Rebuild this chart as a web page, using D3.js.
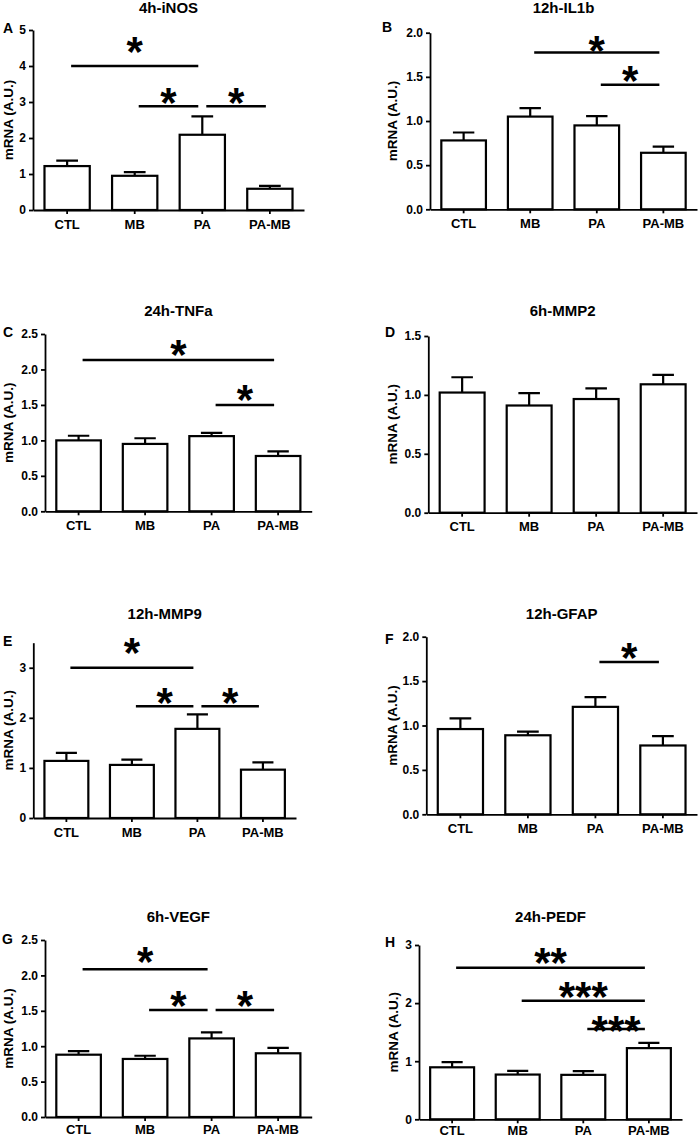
<!DOCTYPE html>
<html>
<head>
<meta charset="utf-8">
<script src="https://cdn.jsdelivr.net/npm/d3@7"></script>
<style>
  body { margin: 0; background: #fff; }
  svg { display: block; font-family: "Liberation Sans", Arial, sans-serif; font-weight: bold; }
</style>
</head>
<body>
<div id="fig"></div>
<script>
// group names on the x axis (same for every panel)
var groups = ["CTL", "MB", "PA", "PA-MB"];

var titles = ["4h-iNOS", "12h-IL1b", "24h-TNFa", "6h-MMP2", "12h-MMP9", "12h-GFAP", "6h-VEGF", "24h-PEDF"];
var letters = ["A", "B", "C", "D", "E", "F", "G", "H"];

// bar heights (mean) and upper error (SEM)
var means = [
  [1.22, 0.95, 2.09, 0.59],
  [0.78, 1.05, 0.95, 0.64],
  [1.00, 0.95, 1.06, 0.78],
  [1.02, 0.91, 0.965, 1.09],
  [1.14, 1.06, 1.78, 0.965],
  [0.96, 0.89, 1.21, 0.775],
  [0.88, 0.82, 1.11, 0.90],
  [0.895, 0.77, 0.765, 1.225]
];
var sems = [
  [0.15, 0.10, 0.51, 0.08],
  [0.09, 0.095, 0.105, 0.07],
  [0.065, 0.08, 0.045, 0.065],
  [0.13, 0.105, 0.09, 0.08],
  [0.16, 0.105, 0.29, 0.145],
  [0.12, 0.04, 0.11, 0.105],
  [0.05, 0.045, 0.085, 0.075],
  [0.09, 0.065, 0.065, 0.09]
];

// y axis
var yMax = [5, 2, 2.5, 1.5, 3.5, 2, 2.5, 3];
var yTicks = [
  [0, 1, 2, 3, 4, 5],
  [0, 0.5, 1, 1.5, 2],
  [0, 0.5, 1, 1.5, 2, 2.5],
  [0, 0.5, 1, 1.5],
  [0, 1, 2, 3],
  [0, 0.5, 1, 1.5, 2],
  [0, 0.5, 1, 1.5, 2, 2.5],
  [0, 1, 2, 3]
];
var yDecimals = [0, 1, 1, 1, 0, 1, 1, 0];

// significance: [from group, to group, line value, star value, label]
var comparisons = [
  [[0, 2, 4.0, 4.67, "*"], [1, 2, 2.88, 3.25, "*"], [2, 3, 2.88, 3.25, "*"]],
  [[1, 3, 1.777, 1.908, "*"], [2, 3, 1.41, 1.57, "*"]],
  [[0, 3, 2.134, 2.345, "*"], [2, 3, 1.50, 1.71, "*"]],
  [],
  [[0, 2, 3.0, 3.49, "*"], [1, 2, 2.23, 2.49, "*"], [2, 3, 2.23, 2.49, "*"]],
  [[2, 3, 1.715, 1.873, "*"]],
  [[0, 2, 2.086, 2.335, "*"], [1, 2, 1.511, 1.713, "*"], [2, 3, 1.511, 1.713, "*"]],
  [[0, 3, 2.61, 2.857, "**"], [1, 3, 2.04, 2.282, "***"], [2, 3, 1.554, 1.697, "***"]]
];

// panel placement on the page
var layout = [
  {xL: 33,    xR: 304,   yTop: 30,    y0: 210,    titleY: 12.7,  lx: 3,   ly: 33,    labX: 12.5, xPad: 5.5},
  {xL: 430,   xR: 697,   yTop: 32.7,  y0: 209.3,  titleY: 12.7,  lx: 382, ly: 32.3,  labX: 397,  xPad: 5.5},
  {xL: 45,    xR: 311.7, yTop: 334,   y0: 511.3,  titleY: 316,   lx: 3,   ly: 336.7, labX: 12.5, xPad: 5.5},
  {xL: 428.3, xR: 697,   yTop: 336,   y0: 512.7,  titleY: 316,   lx: 385, ly: 336.7, labX: 397,  xPad: 5.5},
  {xL: 33.3,  xR: 296,   yTop: 642.7, y0: 818,    titleY: 619,   lx: 3,   ly: 646,   labX: 12.5, xPad: 5.5},
  {xL: 426.3, xR: 697,   yTop: 636.7, y0: 814.3,  titleY: 619,   lx: 385, ly: 644,   labX: 397,  xPad: 5.5},
  {xL: 45,    xR: 311.7, yTop: 940,   y0: 1117,   titleY: 921.7, lx: 2,   ly: 944.3, labX: 12.5, xPad: 4},
  {xL: 419,   xR: 682,   yTop: 945,   y0: 1119.3, titleY: 921.7, lx: 385, ly: 946.7, labX: 398,  xPad: 2.5}
];

var starSize = 42;

var svg = d3.select("#fig").append("svg")
  .attr("width", 698)
  .attr("height", 1138);

titles.forEach(function (title, i) {
  var L = layout[i];
  var g = svg.append("g").attr("class", "panel");

  var x = d3.scaleBand().domain(groups)
    .range([L.xL, L.xR])
    .paddingInner(0.33)
    .paddingOuter(0.17);
  var y = d3.scaleLinear().domain([0, yMax[i]]).range([L.y0, L.yTop]);
  var bw = x.bandwidth();

  var rows = groups.map(function (k, j) {
    return {key: k, mean: means[i][j], sem: sems[i][j]};
  });

  // bars
  g.selectAll(".bar")
    .data(rows)
    .enter().append("rect")
    .attr("class", "bar")
    .attr("x", function (d) { return x(d.key); })
    .attr("y", function (d) { return y(d.mean); })
    .attr("width", bw)
    .attr("height", function (d) { return y(0) - y(d.mean); })
    .style("fill", "#fff")
    .style("stroke", "#000")
    .style("stroke-width", 2.2);

  // error bars (upper half only)
  g.selectAll(".err")
    .data(rows)
    .enter().append("path")
    .attr("class", "err")
    .attr("d", function (d) {
      var cx = x(d.key) + bw / 2, top = y(d.mean + d.sem);
      return "M" + cx + "," + y(d.mean) + "V" + top +
        "M" + (cx - bw * 0.24) + "," + top + "H" + (cx + bw * 0.24);
    })
    .style("fill", "none")
    .style("stroke", "#000")
    .style("stroke-width", 2.2);

  // axes
  var ya = g.append("g")
    .attr("transform", "translate(" + L.xL + ",0)")
    .call(d3.axisLeft(y)
      .tickValues(yTicks[i])
      .tickFormat(d3.format("." + yDecimals[i] + "f"))
      .tickSize(4).tickSizeOuter(0).tickPadding(3));

  var xa = g.append("g")
    .attr("transform", "translate(0," + L.y0 + ")")
    .call(d3.axisBottom(x).tickSize(4).tickSizeOuter(0).tickPadding(L.xPad));

  [ya, xa].forEach(function (a) {
    a.select(".domain").style("stroke-width", 1.8);
    a.selectAll(".tick line").style("stroke-width", 1.8);
    a.selectAll("text")
      .style("font-family", '"Liberation Sans", Arial, sans-serif')
      .style("font-weight", "bold")
      .style("fill", "#000");
  });
  ya.selectAll("text").style("font-size", "12px");
  xa.selectAll("text").style("font-size", "13px");

  // significance bars and stars
  var comp = g.selectAll(".sig")
    .data(comparisons[i])
    .enter().append("g")
    .attr("class", "sig");

  comp.append("line")
    .attr("x1", function (d) { return x(groups[d[0]]) + bw / 2 + 4; })
    .attr("x2", function (d) { return x(groups[d[1]]) + bw / 2 - 4; })
    .attr("y1", function (d) { return y(d[2]); })
    .attr("y2", function (d) { return y(d[2]); })
    .style("stroke", "#000")
    .style("stroke-width", 2.5);

  comp.append("text")
    .attr("text-anchor", "middle")
    .attr("x", function (d) { return (x(groups[d[0]]) + x(groups[d[1]]) + bw) / 2; })
    .attr("y", function (d) { return y(d[3]) + starSize * 0.57; })
    .style("font-size", starSize + "px")
    .text(function (d) { return d[4]; });

  // title, panel letter, y label
  g.append("text")
    .attr("x", (L.xL + L.xR) / 2)
    .attr("y", L.titleY)
    .attr("text-anchor", "middle")
    .style("font-size", "15px")
    .text(title);

  g.append("text")
    .attr("x", L.lx)
    .attr("y", L.ly)
    .style("font-size", "14px")
    .text(letters[i]);

  g.append("text")
    .attr("transform", "translate(" + L.labX + "," + ((L.yTop + L.y0) / 2) + ") rotate(-90)")
    .attr("text-anchor", "middle")
    .style("font-size", "13.5px")
    .text("mRNA (A.U.)");
});
</script>
</body>
</html>
